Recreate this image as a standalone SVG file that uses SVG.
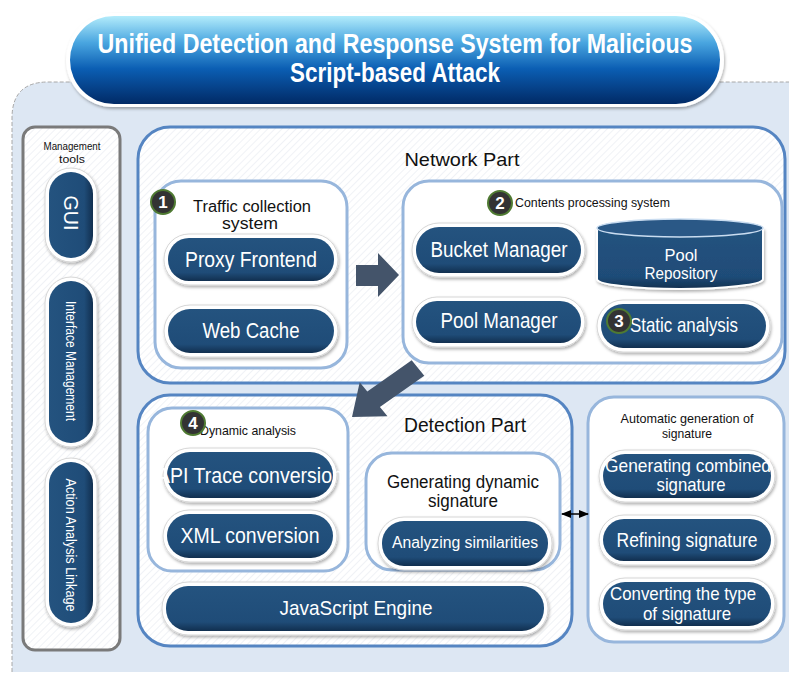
<svg xmlns="http://www.w3.org/2000/svg" width="789" height="673" viewBox="0 0 789 673">
<defs>
<pattern id="hatch" width="5" height="5" patternUnits="userSpaceOnUse" patternTransform="rotate(45)">
<rect width="5" height="5" fill="#ffffff"/>
<line x1="0" y1="0" x2="0" y2="5" stroke="#e6eaf0" stroke-width="1.2"/>
</pattern>
<linearGradient id="titleG" x1="0" y1="0" x2="0" y2="1">
<stop offset="0" stop-color="#b3ecfb"/>
<stop offset="0.3" stop-color="#4aa6e0"/>
<stop offset="0.6" stop-color="#0b5eb3"/>
<stop offset="1" stop-color="#012a66"/>
</linearGradient>
<linearGradient id="pillG" x1="0" y1="0" x2="0" y2="1">
<stop offset="0" stop-color="#24537f"/>
<stop offset="0.8" stop-color="#1f4c78"/>
<stop offset="1" stop-color="#112f4f"/>
</linearGradient>
<linearGradient id="pillGH" x1="0" y1="0" x2="1" y2="0">
<stop offset="0" stop-color="#24537f"/>
<stop offset="0.8" stop-color="#1f4c78"/>
<stop offset="1" stop-color="#112f4f"/>
</linearGradient>
<filter id="sh" x="-10%" y="-20%" width="120%" height="150%">
<feDropShadow dx="1" dy="2" stdDeviation="1.5" flood-color="#000" flood-opacity="0.3"/>
</filter>
<marker id="ah" viewBox="0 0 10 10" refX="9" refY="5" markerWidth="7" markerHeight="7" orient="auto-start-reverse">
<path d="M0,1 L10,5 L0,9 z" fill="#000"/>
</marker>
<style>
.txt{font-family:"Liberation Sans",Arial,sans-serif;}
.pt{font-family:"Liberation Sans",Arial,sans-serif;fill:#fff;text-anchor:middle;}
.bt{font-family:"Liberation Sans",Arial,sans-serif;fill:#111;text-anchor:middle;}
.ring{fill:#fff;stroke:#d6d6d6;stroke-width:1;filter:url(#sh);}
.pill{fill:url(#pillG);}
.vpill{fill:url(#pillGH);}
.outer{fill:url(#hatch);stroke:#5585c2;stroke-width:3;}
.inner{fill:#fff;stroke:#97b6dc;stroke-width:3;}
.badge{fill:#333;stroke:#4f7a32;stroke-width:2;}
.bn{font-family:"Liberation Sans",Arial,sans-serif;fill:#fff;font-size:17px;font-weight:bold;text-anchor:middle;}
.blk{fill:#44546a;}
</style>
</defs>

<!-- background panel -->
<path d="M12,672 L12,118 Q12,82 48,82 L800,82 L800,672 Z" fill="#dde7f3"/>
<path d="M12,672 L12,118 Q12,82 48,82 L800,82" fill="none" stroke="#a8a8a8" stroke-width="1" stroke-dasharray="4,2"/>

<!-- title -->
<g id="title">
<rect x="66" y="13" width="658" height="94" rx="47" fill="#fff" filter="url(#sh)"/>
<rect x="70" y="16" width="650" height="88" rx="44" fill="url(#titleG)"/>
<text class="pt" x="395" y="53" font-size="27" font-weight="bold" textLength="595" lengthAdjust="spacingAndGlyphs">Unified Detection and Response System for Malicious</text>
<text class="pt" x="395" y="82" font-size="27" font-weight="bold" textLength="210" lengthAdjust="spacingAndGlyphs">Script-based Attack</text>
</g>

<!-- management tools -->
<g id="management">
<rect x="23" y="127" width="97" height="523" rx="12" fill="url(#hatch)" stroke="#7a7a7a" stroke-width="3"/>
<text class="bt" x="72" y="150" font-size="11" textLength="57" lengthAdjust="spacingAndGlyphs">Management</text>
<text class="bt" x="72" y="163" font-size="11" textLength="26" lengthAdjust="spacingAndGlyphs">tools</text>
</g>
<g id="gui">
<rect class="ring" x="45" y="168" width="52" height="94" rx="26"/>
<rect class="vpill" x="49" y="172" width="44" height="86" rx="22"/>
<text class="pt" transform="translate(71,213) rotate(90)" y="7" font-size="21" textLength="35" lengthAdjust="spacingAndGlyphs">GUI</text>
</g>
<g id="interface">
<rect class="ring" x="45" y="277" width="52" height="170" rx="26"/>
<rect class="vpill" x="49" y="281" width="44" height="162" rx="22"/>
<text class="pt" transform="translate(71,361) rotate(90)" y="5" font-size="14" textLength="120" lengthAdjust="spacingAndGlyphs">Interface Management</text>
</g>
<g id="action">
<rect class="ring" x="45" y="458" width="52" height="169" rx="26"/>
<rect class="vpill" x="49" y="462" width="44" height="161" rx="22"/>
<text class="pt" transform="translate(71,545) rotate(90)" y="5" font-size="14" textLength="133" lengthAdjust="spacingAndGlyphs">Action Analysis Linkage</text>
</g>

<!-- Network part -->
<g id="network">
<rect class="outer" x="138" y="127" width="647" height="256" rx="32"/>
<text class="bt" x="462" y="166" font-size="19" textLength="115" lengthAdjust="spacingAndGlyphs">Network Part</text>
</g>
<g id="traffic">
<rect class="inner" x="155" y="181" width="192" height="187" rx="26"/>
<text class="bt" x="252" y="212" font-size="16" textLength="118" lengthAdjust="spacingAndGlyphs">Traffic collection</text>
<text class="bt" x="250" y="229" font-size="16" textLength="56" lengthAdjust="spacingAndGlyphs">system</text>
<circle class="badge" cx="163" cy="202" r="12"/>
<text class="bn" x="163" y="208">1</text>
</g>
<g id="proxy">
<rect class="ring" x="164" y="234" width="174" height="51" rx="25"/>
<rect class="pill" x="168" y="238" width="166" height="43" rx="21"/>
<text class="pt" x="251" y="267" font-size="22" textLength="132" lengthAdjust="spacingAndGlyphs">Proxy Frontend</text>
</g>
<g id="webcache">
<rect class="ring" x="164" y="305" width="174" height="52" rx="26"/>
<rect class="pill" x="168" y="309" width="166" height="44" rx="22"/>
<text class="pt" x="251" y="338" font-size="22" textLength="97" lengthAdjust="spacingAndGlyphs">Web Cache</text>
</g>
<g id="contents">
<rect class="inner" x="403" y="181" width="379" height="182" rx="26"/>
<text class="txt" x="515" y="207" font-size="13" fill="#111" textLength="155" lengthAdjust="spacingAndGlyphs">Contents processing system</text>
<circle class="badge" cx="500" cy="203" r="12"/>
<text class="bn" x="500" y="209">2</text>
</g>
<g id="bucket">
<rect class="ring" x="412" y="223" width="173" height="54" rx="27"/>
<rect class="pill" x="416" y="227" width="165" height="46" rx="23"/>
<text class="pt" x="499" y="257" font-size="22" textLength="137" lengthAdjust="spacingAndGlyphs">Bucket Manager</text>
</g>
<g id="repository">
<path d="M597,228 L597,279 A83,10 0 0 0 763,279 L763,228" fill="url(#pillG)" stroke="#fff" stroke-width="2" filter="url(#sh)"/>
<ellipse cx="680" cy="228" rx="83" ry="9" fill="#2a5886" stroke="#c9dcf0" stroke-width="1.5"/>
<text class="pt" x="681" y="261" font-size="16" textLength="33" lengthAdjust="spacingAndGlyphs">Pool</text>
<text class="pt" x="681" y="279" font-size="16" textLength="73" lengthAdjust="spacingAndGlyphs">Repository</text>
</g>
<g id="poolmgr">
<rect class="ring" x="412" y="297" width="173" height="50" rx="25"/>
<rect class="pill" x="416" y="301" width="165" height="42" rx="21"/>
<text class="pt" x="499" y="328" font-size="22" textLength="117" lengthAdjust="spacingAndGlyphs">Pool Manager</text>
</g>
<g id="static">
<rect class="ring" x="597" y="300" width="173" height="52" rx="26"/>
<rect class="pill" x="601" y="304" width="165" height="44" rx="22"/>
<text class="pt" x="684" y="332" font-size="21" textLength="108" lengthAdjust="spacingAndGlyphs">Static analysis</text>
<circle class="badge" cx="619" cy="321" r="12"/>
<text class="bn" x="619" y="327">3</text>
</g>

<!-- Detection part -->
<g id="detection">
<rect class="outer" x="138" y="395" width="434" height="251" rx="32"/>
<text class="bt" x="465" y="432" font-size="20" textLength="122" lengthAdjust="spacingAndGlyphs">Detection Part</text>
</g>
<g id="dynamic">
<rect class="inner" x="148" y="408" width="200" height="163" rx="24"/>
<text class="txt" x="200" y="435" font-size="13" fill="#111" textLength="96" lengthAdjust="spacingAndGlyphs">Dynamic analysis</text>
<circle class="badge" cx="193" cy="423" r="12"/>
<text class="bn" x="193" y="429">4</text>
</g>
<g id="apitrace">
<rect class="ring" x="163" y="448" width="174" height="54" rx="27"/>
<rect class="pill" x="167" y="452" width="166" height="46" rx="23"/>
<text class="pt" x="250" y="483" font-size="22" textLength="186" lengthAdjust="spacingAndGlyphs">API Trace conversion</text>
</g>
<g id="xml">
<rect class="ring" x="163" y="510" width="174" height="52" rx="26"/>
<rect class="pill" x="167" y="514" width="166" height="44" rx="22"/>
<text class="pt" x="250" y="543" font-size="22" textLength="139" lengthAdjust="spacingAndGlyphs">XML conversion</text>
</g>
<g id="gendyn">
<rect class="inner" x="366" y="453" width="194" height="117" rx="26"/>
<text class="bt" x="463" y="488" font-size="18" textLength="152" lengthAdjust="spacingAndGlyphs">Generating dynamic</text>
<text class="bt" x="463" y="507" font-size="18" textLength="70" lengthAdjust="spacingAndGlyphs">signature</text>
</g>
<g id="similarities">
<rect class="ring" x="378" y="517" width="174" height="53" rx="26"/>
<rect class="pill" x="382" y="521" width="166" height="45" rx="22"/>
<text class="pt" x="465" y="548" font-size="16" textLength="146" lengthAdjust="spacingAndGlyphs">Analyzing similarities</text>
</g>
<g id="jsengine">
<rect class="ring" x="162" y="582" width="386" height="53" rx="26"/>
<rect class="pill" x="166" y="586" width="378" height="45" rx="22"/>
<text class="pt" x="356" y="615" font-size="21" textLength="153" lengthAdjust="spacingAndGlyphs">JavaScript Engine</text>
</g>

<!-- Automatic generation of signature -->
<g id="autogen">
<rect class="inner" x="588" y="397" width="196" height="245" rx="26"/>
<text class="bt" x="687" y="423" font-size="13" textLength="133" lengthAdjust="spacingAndGlyphs">Automatic generation of</text>
<text class="bt" x="687" y="438" font-size="13" textLength="50" lengthAdjust="spacingAndGlyphs">signature</text>
</g>
<g id="combined">
<rect class="ring" x="599" y="450" width="176" height="52" rx="26"/>
<rect class="pill" x="603" y="454" width="168" height="44" rx="22"/>
<text class="pt" x="688" y="472" font-size="19" textLength="166" lengthAdjust="spacingAndGlyphs">Generating combined</text>
<text class="pt" x="691" y="491" font-size="19" textLength="69" lengthAdjust="spacingAndGlyphs">signature</text>
</g>
<g id="refining">
<rect class="ring" x="599" y="515" width="176" height="50" rx="25"/>
<rect class="pill" x="603" y="519" width="168" height="42" rx="21"/>
<text class="pt" x="687" y="547" font-size="20" textLength="141" lengthAdjust="spacingAndGlyphs">Refining signature</text>
</g>
<g id="converting">
<rect class="ring" x="599" y="578" width="176" height="52" rx="26"/>
<rect class="pill" x="603" y="582" width="168" height="44" rx="22"/>
<text class="pt" x="683" y="600" font-size="19" textLength="146" lengthAdjust="spacingAndGlyphs">Converting the type</text>
<text class="pt" x="687" y="620" font-size="19" textLength="88" lengthAdjust="spacingAndGlyphs">of signature</text>
</g>

<!-- connectors -->
<g id="connectors">
<path class="blk" d="M356,265 L378,265 L378,253 L399,275 L378,297 L378,286 L356,286 Z"/>
<path class="blk" d="M424.3,375.7 L379.9,406.9 L387.5,416.2 L352,417 L359.7,382.2 L367.3,391.5 L411.7,360.3 Z"/>
<line x1="562" y1="514" x2="588" y2="514" stroke="#000" stroke-width="1.5" marker-start="url(#ah)" marker-end="url(#ah)"/>
</g>
</svg>
